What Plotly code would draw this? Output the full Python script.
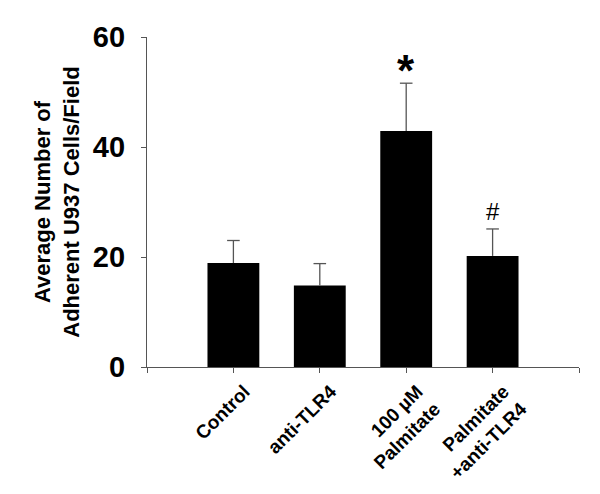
import plotly.graph_objects as go

categories = ["Control", "anti-TLR4", "100 µM<br>Palmitate", "Palmitate<br>+anti-TLR4"]
means = [18.9, 14.8, 42.9, 20.2]
errors = [4.1, 4.0, 8.7, 4.9]
markers = ["", "", "*", "#"]

xpos = list(range(len(categories)))
tops = [m + e for m, e in zip(means, errors)]

fig = go.Figure(
    data=[
        go.Bar(
            x=xpos,
            y=means,
            width=0.6,
            marker=dict(color="black", line=dict(width=0)),
            error_y=dict(type="data", array=errors, arrayminus=[0] * len(errors),
                         symmetric=False, color="#555555", thickness=1.3, width=0),
        ),
        # top caps of the error bars (no cap at the bar end)
        go.Scatter(
            x=xpos, y=tops, mode="markers", hoverinfo="skip",
            marker=dict(symbol="line-ew", size=9, color="#555555",
                        line=dict(width=1.3, color="#555555")),
        ),
    ]
)

for x, t, s in zip(xpos, tops, markers):
    if not s:
        continue
    fig.add_annotation(
        x=x, y=t, text=s, showarrow=False, yanchor="bottom", yshift=2 if s == "#" else -14,
        font=dict(size=44 if s == "*" else 24, color="black",
                  family="Liberation Sans, Arial",
                  weight="bold" if s == "*" else "normal"),
    )

fig.update_layout(
    width=600,
    height=494,
    margin=dict(l=139, r=29, t=29, b=135),
    paper_bgcolor="white",
    plot_bgcolor="white",
    showlegend=False,
    font=dict(family="Liberation Sans, Arial", color="black"),
    xaxis=dict(
        range=[-1, 4],
        tickvals=[-1] + xpos + [4],
        ticktext=[""] + categories + [""],
        tickangle=-45,
        ticks="outside", ticklen=5, tickcolor="#555555",
        showline=True, linecolor="#555555", linewidth=1.2,
        showgrid=False, zeroline=False,
        tickfont=dict(size=19, weight="bold"),
        ticklabelstandoff=0,
        ticklabelshift=11,
    ),
    yaxis=dict(
        range=[0, 60],
        tickvals=[0, 20, 40, 60],
        ticks="outside", ticklen=5, tickcolor="#555555",
        showline=True, linecolor="#555555", linewidth=1.2,
        showgrid=False, zeroline=False,
        tickfont=dict(size=29, weight="bold"),
        ticklabelstandoff=10,
        title=dict(text="Average Number of<br>Adherent U937 Cells/Field",
                   font=dict(size=22, weight="bold"), standoff=7),
    ),
)

fig.write_html("out.html")
